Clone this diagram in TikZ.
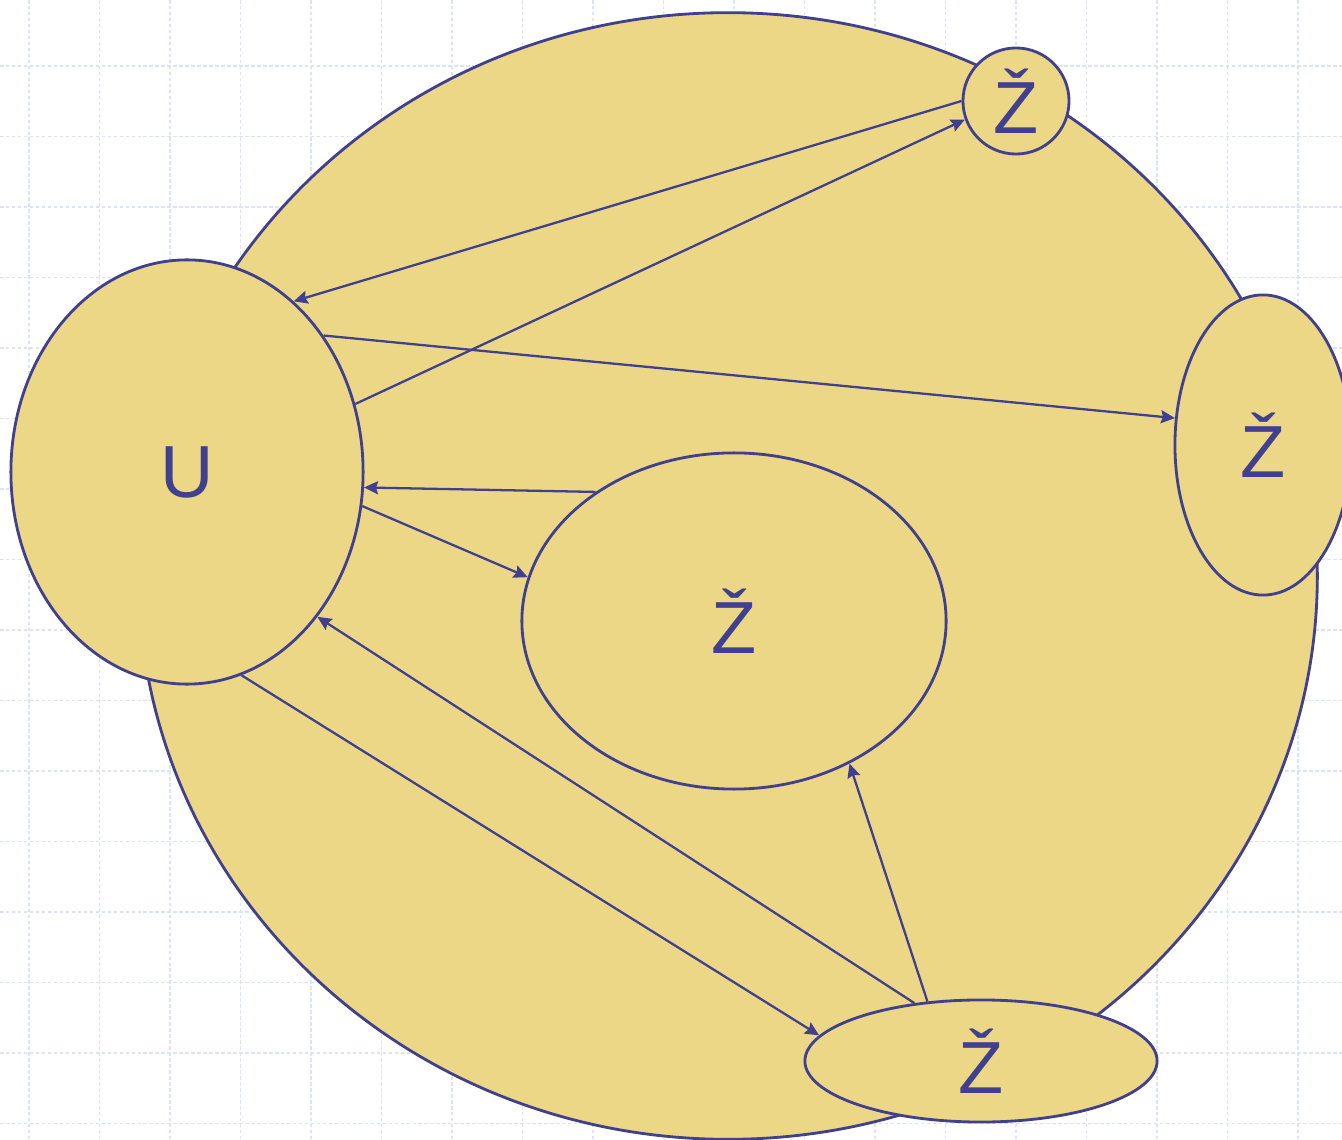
\documentclass[tikz,border=0pt]{standalone}
\usepackage{fontspec}
\setsansfont{Liberation Sans}
\usetikzlibrary{arrows.meta,shapes.geometric}
\definecolor{sand}{HTML}{EBD785}
\definecolor{navy}{HTML}{40408F}
\definecolor{gridblue}{HTML}{DCE3F8}

\begin{document}
\begin{tikzpicture}[x=0.01cm,y=-0.01cm,
    font=\sffamily\fontsize{21pt}{25pt}\selectfont,
    gridline/.style={draw=gridblue,line width=0.5pt,dash pattern=on 1pt off 0.7pt},
    blob/.style={ellipse,draw=navy,line width=0.8pt,fill=sand,text=navy,inner sep=0pt},
    link/.style={draw=navy,line width=0.65pt,
                 -{Stealth[length=1.4mm,width=1.3mm,inset=0.2mm]}}]
  \useasboundingbox (0,0) rectangle (1342,1140);
  \foreach \i in {0,...,18}
    \draw[gridline] ({29+70.5*\i},0) -- ++(0,1140);
  \foreach \j in {0,...,15}
    \draw[gridline] (0,{66+70.5*\j}) -- ++(1342,0);
  \node[blob,minimum width=11.78cm,minimum height=11.26cm] (world) at (728,576) {};
  \node[blob,minimum width=3.52cm,minimum height=4.24cm] (u) at (187,472) {U};
  \node[blob,circle,minimum size=1.06cm] (ztop) at (1016,101) {Ž};
  \node[blob,minimum width=1.76cm,minimum height=3.0cm] (zright) at (1263,445) {Ž};
  \node[blob,minimum width=4.24cm,minimum height=3.36cm] (zmid) at (734,621) {Ž};
  \node[blob,minimum width=3.52cm,minimum height=1.22cm] (zlow) at (981,1061) {Ž};
  \draw[link] (ztop.180) -- (u.58);
  \draw[link] (u.22) -- (ztop.200);
  \draw[link] (u.45) -- (zright.163);
  \draw[link] (zmid.137.5) -- (u.-5.5);
  \draw[link] (u.-11) -- (zmid.168);
  \draw[link] (zlow.139) -- (u.-48);
  \draw[link] (u.-75) -- (zlow.171);
  \draw[link] (zlow.132) -- (zmid.-51);
\end{tikzpicture}
\end{document}
